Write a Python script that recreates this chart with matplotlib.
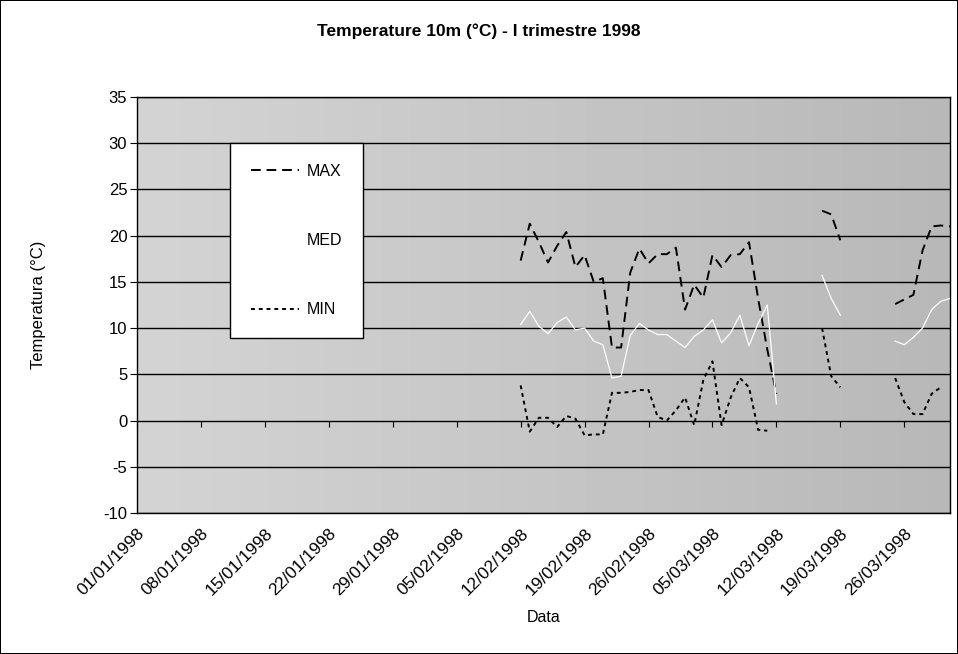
import numpy as np
import pandas as pd
import matplotlib
matplotlib.use("Agg")
import matplotlib.pyplot as plt
import matplotlib.dates as mdates

plt.rcParams['font.family'] = ['Liberation Sans', 'DejaVu Sans']
plt.rcParams['axes.unicode_minus'] = False

nan = np.nan

# daily readings from 12/02/1998 to 31/03/1998
days = pd.date_range("1998-02-12", "1998-03-31", freq="D")

t_max = [17.3, 21.3, 19.3, 17.1, 18.9, 20.4, 16.6, 17.9, 15.0, 15.4,
         7.9, 7.9, 16.0, 18.6, 17.0, 18.0, 18.0, 18.7, 12.0, 14.7,
         13.3, 17.9, 16.6, 17.9, 18.0, 19.3, 13.2, 7.7, 2.9, nan,
         nan, nan, nan, 22.7, 22.3, 19.5, nan, nan, nan, nan,
         nan, 12.6, 13.1, 13.6, 18.4, 21.0, 21.1, 21.0]

t_med = [10.4, 11.8, 10.2, 9.4, 10.6, 11.2, 9.8, 10.0, 8.6, 8.2,
         4.6, 4.8, 9.2, 10.5, 9.8, 9.3, 9.3, 8.6, 7.9, 9.1,
         9.8, 10.9, 8.4, 9.5, 11.4, 8.1, 10.5, 12.5, 1.8, nan,
         nan, nan, nan, 15.7, 13.2, 11.4, nan, nan, nan, nan,
         nan, 8.6, 8.2, 9.0, 10.0, 12.0, 12.9, 13.2]

t_min = [3.8, -1.2, 0.3, 0.3, -0.7, 0.5, 0.2, -1.6, -1.5, -1.5,
         3.0, 3.0, 3.1, 3.3, 3.3, 0.4, 0.0, 1.1, 2.5, -0.5,
         4.4, 6.4, -0.5, 2.5, 4.6, 3.6, -1.0, -1.1, nan, nan,
         nan, nan, nan, 10.0, 4.8, 3.6, nan, nan, nan, nan,
         nan, 4.6, 2.0, 0.7, 0.7, 2.9, 3.6, nan]

y_ticks = [-10, -5, 0, 5, 10, 15, 20, 25, 30, 35]

fig = plt.figure(figsize=(9.58, 6.54), dpi=100)
fig.patch.set_edgecolor("black")
fig.patch.set_linewidth(1.2)
ax = fig.add_axes([0.143, 0.2156, 0.8486, 0.6361])

# grey dithered look of the scanned plot area
ramp = np.linspace(0.83, 0.72, 256).reshape(1, -1)
ax.imshow(ramp, cmap="gray", vmin=0, vmax=1, aspect="auto",
          extent=(0, 1, 0, 1), transform=ax.transAxes, zorder=0)

ax.plot(days, t_max, color="black", lw=1.4, ls=(0, (5, 3)), label="MAX", zorder=3)
ax.plot(days, t_med, color="white", lw=0.9, label="MED", zorder=3)
ax.plot(days, t_min, color="black", lw=1.4, ls=(0, (2, 2)), label="MIN", zorder=3)

ax.set_xlim(pd.Timestamp("1998-01-01"), pd.Timestamp("1998-03-31"))
ax.set_ylim(-10, 35)
ax.set_yticks(y_ticks)
for v in y_ticks:
    ax.axhline(v, color="black", lw=1.0, zorder=1)

week_ticks = pd.date_range("1998-01-01", "1998-03-31", freq="7D")
ax.set_xticks(week_ticks)
ax.xaxis.set_major_formatter(mdates.DateFormatter("%d/%m/%Y"))
ax.tick_params(axis="x", length=0, pad=9, labelsize=12.5)
for lab in ax.get_xticklabels():
    lab.set_rotation(45)
    lab.set_ha("right")
    lab.set_rotation_mode("anchor")
ax.tick_params(axis="y", direction="out", length=5, labelsize=12, pad=2)

# the category axis crosses at 0: tick marks sit on the zero line
sec = ax.secondary_xaxis(10 / 45)
sec.set_xticks(week_ticks)
sec.tick_params(direction="out", length=4, labelbottom=False, labeltop=False)
sec.spines["bottom"].set_visible(False)

for s in ax.spines.values():
    s.set_color("black")
    s.set_linewidth(1.0)

ax.set_xlabel("Data", fontsize=11.5, labelpad=9)
ax.set_ylabel("Temperatura (°C)", fontsize=12, labelpad=41)
fig.text(0.5, 0.953, "Temperature 10m (°C) - I trimestre 1998",
         ha="center", va="center", fontsize=12.5, fontweight="bold")

leg = ax.legend(loc="upper left", bbox_to_anchor=(230 / 958, 1 - 143 / 654),
                bbox_transform=fig.transFigure, fontsize=11.5, frameon=True,
                fancybox=False, edgecolor="black", framealpha=1,
                handlelength=3.0, handletextpad=0.5, labelspacing=3.4,
                borderpad=1.3, borderaxespad=0)
leg.get_frame().set_linewidth(1.0)
leg.set_zorder(5)

fig.savefig("out.png", dpi=100)
